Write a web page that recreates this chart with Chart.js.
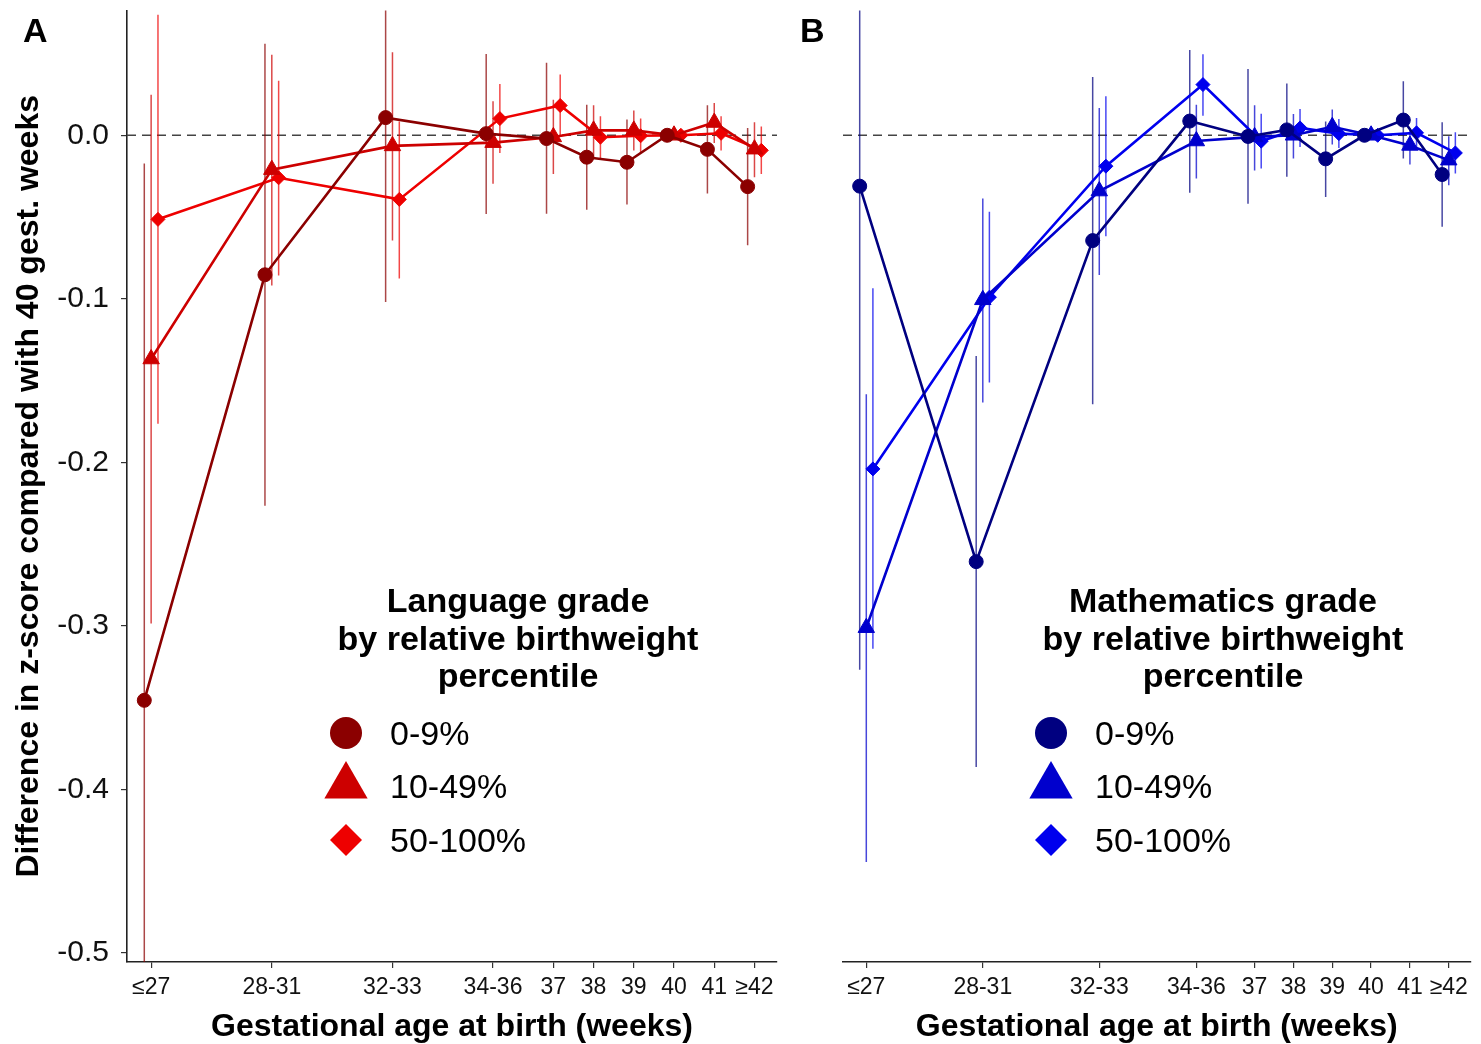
<!DOCTYPE html>
<html>
<head>
<meta charset="utf-8">
<script src="https://cdn.jsdelivr.net/npm/chart.js@4"></script>
<style>
  html, body { margin: 0; padding: 0; background: #fff; }
  #wrap { position: relative; width: 1481px; height: 1044px; }
  #chartA { position: absolute; left: 0; top: 0; }
  #chartB { position: absolute; left: 790px; top: 0; }
</style>
</head>
<body>
<div id="wrap">
  <canvas id="chartA" width="790" height="1044"></canvas>
  <canvas id="chartB" width="691" height="1044"></canvas>
</div>
<script>
// categories on the x axis and where they sit (weeks)
const categories = ['≤27', '28-31', '32-33', '34-36', '37', '38', '39', '40', '41', '≥42'];
const catWeeks = [27, 30, 33, 35.5, 37, 38, 39, 40, 41, 42];
const groups = ['0-9%', '10-49%', '50-100%'];
const dodge = [-0.17, 0, 0.17];
const yTicks = [0, -0.1, -0.2, -0.3, -0.4, -0.5];

// A: language grade
const langLow = [-0.3455, -0.0853, 0.0108, 0.001, -0.002, -0.0134, -0.0165, 0, -0.0086, -0.0314];
const langLowLo = [-0.674, -0.2265, -0.102, -0.0482, -0.048, -0.0456, -0.0423, null, -0.0356, -0.0673];
const langLowHi = [-0.0173, 0.056, 0.1236, 0.0497, 0.0444, 0.0187, 0.0096, null, 0.0183, 0.0045];

const langMid = [-0.1368, -0.021, -0.0065, -0.0045, -0.001, 0.003, 0.003, 0, 0.0078, -0.0085];
const langMidLo = [-0.2985, -0.0918, -0.0643, -0.0297, -0.0236, -0.0134, -0.0093, null, -0.0047, -0.0256];
const langMidHi = [0.0248, 0.0493, 0.0507, 0.0208, 0.0218, 0.0183, 0.0151, null, 0.0197, 0.0079];

const langHigh = [-0.0514, -0.026, -0.0392, 0.0102, 0.0182, -0.0012, -0.0003, 0, 0.0012, -0.0092];
const langHighLo = [-0.1764, -0.0857, -0.0875, -0.0108, -0.0006, -0.0139, -0.0108, null, -0.0093, -0.0236];
const langHighHi = [0.0737, 0.0334, 0.0085, 0.0313, 0.0371, 0.0116, 0.0102, null, 0.0116, 0.0053];

// B: mathematics grade
const mathLow = [-0.0311, -0.2607, -0.0644, 0.0087, -0.0007, 0.0033, -0.0144, 0, 0.0093, -0.024];
const mathLowLo = [-0.3268, -0.3863, -0.1644, -0.0352, -0.0419, -0.0254, -0.0377, null, -0.0142, -0.056];
const mathLowHi = [0.2646, -0.1349, 0.0356, 0.0521, 0.0405, 0.0316, 0.0085, null, 0.033, 0.0079];

const mathMid = [-0.3011, -0.1006, -0.0341, -0.0035, -0.001, 0.0, 0.0052, 0, -0.0062, -0.0152];
const mathMidLo = [-0.4444, -0.1634, -0.0855, -0.0264, -0.0216, -0.0142, -0.0057, null, -0.0179, -0.0305];
const mathMidHi = [-0.1583, -0.0386, 0.0167, 0.0187, 0.0183, 0.013, 0.0157, null, 0.0045, -0.0006];

const mathHigh = [-0.204, -0.099, -0.0189, 0.031, -0.0036, 0.0045, 0.001, 0, 0.0015, -0.0108];
const mathHighLo = [-0.314, -0.1512, -0.0617, 0.012, -0.0203, -0.0071, -0.0078, null, -0.0073, -0.0234];
const mathHighHi = [-0.0936, -0.0468, 0.0238, 0.0496, 0.0132, 0.0161, 0.01, null, 0.0106, 0.0018];

const FONT = "'Liberation Sans', Arial, sans-serif";
Chart.defaults.font.family = FONT;
Chart.defaults.color = '#111';

const pointStyles = ['circle', 'triangle', 'rectRot'];
const pointRadii = [7, 9.5, 7];

function withAlpha(hex, a) {
  const n = parseInt(hex.slice(1), 16);
  return 'rgba(' + (n >> 16) + ',' + ((n >> 8) & 255) + ',' + (n & 255) + ',' + a + ')';
}

function drawMarker(ctx, style, x, y, r, color) {
  ctx.fillStyle = color;
  ctx.beginPath();
  if (style === 'circle') {
    ctx.arc(x, y, r, 0, Math.PI * 2);
  } else if (style === 'triangle') {
    ctx.moveTo(x, y - r);
    ctx.lineTo(x + r * Math.sin(Math.PI / 3), y + r / 2);
    ctx.lineTo(x - r * Math.sin(Math.PI / 3), y + r / 2);
    ctx.closePath();
  } else {
    ctx.moveTo(x, y - r);
    ctx.lineTo(x + r, y);
    ctx.lineTo(x, y + r);
    ctx.lineTo(x - r, y);
    ctx.closePath();
  }
  ctx.fill();
}

const panelDecor = {
  id: 'panelDecor',
  beforeDatasetsDraw(chart) {
    const { ctx, chartArea: a, scales: { x, y } } = chart;
    ctx.save();
    ctx.beginPath();
    ctx.rect(a.left, a.top, a.right - a.left, a.bottom - a.top);
    ctx.clip();
    // reference line at 0
    const y0 = y.getPixelForValue(0);
    ctx.setLineDash([9, 6]);
    ctx.strokeStyle = '#444';
    ctx.lineWidth = 1.5;
    ctx.beginPath();
    ctx.moveTo(a.left, y0);
    ctx.lineTo(a.right, y0);
    ctx.stroke();
    ctx.setLineDash([]);
    // confidence intervals
    chart.data.datasets.forEach(ds => {
      ctx.strokeStyle = withAlpha(ds.borderColor, 0.72);
      ctx.lineWidth = 1.5;
      ds.data.forEach((p, i) => {
        if (ds.lo[i] == null) return;
        const px = x.getPixelForValue(p.x);
        ctx.beginPath();
        ctx.moveTo(px, y.getPixelForValue(ds.hi[i]));
        ctx.lineTo(px, y.getPixelForValue(ds.lo[i]));
        ctx.stroke();
      });
    });
    ctx.restore();
  },
  afterDraw(chart, args, o) {
    const ctx = chart.ctx;
    ctx.save();
    ctx.fillStyle = '#000';
    ctx.font = 'bold 34px ' + FONT;
    ctx.textAlign = 'left';
    ctx.textBaseline = 'alphabetic';
    ctx.fillText(o.letter, o.letterX, 42);
    // legend
    ctx.textAlign = 'center';
    ctx.textBaseline = 'middle';
    o.title.forEach((t, i) => ctx.fillText(t, o.titleX, 603 + i * 37.5));
    const itemY = [733, 786, 840];
    const legendR = [16, 25, 16];
    groups.forEach((g, i) => {
      drawMarker(ctx, pointStyles[i], o.markerX, itemY[i], legendR[i], o.colors[i]);
      ctx.fillStyle = '#000';
      ctx.font = '34px ' + FONT;
      ctx.textAlign = 'left';
      ctx.fillText(g, o.labelX, itemY[i] + 3);
    });
    ctx.restore();
  }
};

function makePanel(id, cfg) {
  const datasets = cfg.series.map((s, k) => ({
    label: groups[k],
    data: catWeeks.map((w, i) => ({ x: w + dodge[k], y: s.est[i] })),
    lo: s.lo,
    hi: s.hi,
    showLine: true,
    borderColor: cfg.colors[k],
    backgroundColor: cfg.colors[k],
    borderWidth: 2.6,
    pointStyle: pointStyles[k],
    pointRadius: pointRadii[k],
    pointHoverRadius: pointRadii[k],
    pointBorderWidth: 1,
    tension: 0
  }));

  const axisGrid = { display: true, drawOnChartArea: false, drawTicks: true, tickLength: 6, color: '#333', lineWidth: 1.2 };
  const axisBorder = { display: true, color: '#222', width: 1.6 };

  new Chart(document.getElementById(id), {
    type: 'scatter',
    data: { datasets },
    options: {
      responsive: false,
      animation: false,
      layout: { padding: cfg.padding },
      plugins: {
        legend: { display: false },
        tooltip: { enabled: false },
        panelDecor: cfg.decor
      },
      scales: {
        x: {
          type: 'linear',
          min: 26.4,
          max: 42.56,
          afterBuildTicks: s => { s.ticks = catWeeks.map(v => ({ value: v })); },
          afterFit: s => { s.height = 82; s.paddingLeft = 0; s.paddingRight = 0; },
          ticks: {
            callback: (v, i) => categories[i],
            autoSkip: false,
            maxRotation: 0,
            font: { size: 23 },
            padding: 6,
            color: '#111'
          },
          grid: axisGrid,
          border: axisBorder,
          title: {
            display: true,
            text: 'Gestational age at birth (weeks)',
            color: '#000',
            font: { size: 32, weight: 'bold', lineHeight: 1 },
            padding: { top: 0, bottom: 1 }
          }
        },
        y: {
          display: cfg.showY,
          min: -0.5055,
          max: 0.0763,
          afterBuildTicks: s => { s.ticks = yTicks.map(v => ({ value: v })); },
          afterFit: s => {
            s.width = cfg.showY ? 127 : 0;
            s.paddingTop = 0;
            s.paddingBottom = 0;
          },
          ticks: {
            callback: v => Number(v).toFixed(1),
            font: { size: 30 },
            padding: 12,
            color: '#111'
          },
          grid: axisGrid,
          border: axisBorder,
          title: {
            display: true,
            text: 'Difference in z-score compared with 40 gest. weeks',
            color: '#000',
            font: { size: 32, weight: 'bold', lineHeight: 1 },
            padding: { top: 13, bottom: 0 }
          }
        }
      }
    },
    plugins: [panelDecor]
  });
}

makePanel('chartA', {
  colors: ['#8B0000', '#CD0000', '#EE0000'],
  series: [
    { est: langLow, lo: langLowLo, hi: langLowHi },
    { est: langMid, lo: langMidLo, hi: langMidHi },
    { est: langHigh, lo: langHighLo, hi: langHighHi }
  ],
  showY: true,
  padding: { left: 0, top: 9, right: 13, bottom: 0 },
  decor: {
    letter: 'A', letterX: 23,
    title: ['Language grade', 'by relative birthweight', 'percentile'],
    titleX: 518, markerX: 346, labelX: 390,
    colors: ['#8B0000', '#CD0000', '#EE0000']
  }
});

makePanel('chartB', {
  colors: ['#000080', '#0000CD', '#0000EE'],
  series: [
    { est: mathLow, lo: mathLowLo, hi: mathLowHi },
    { est: mathMid, lo: mathMidLo, hi: mathMidHi },
    { est: mathHigh, lo: mathHighLo, hi: mathHighHi }
  ],
  showY: false,
  padding: { left: 53, top: 9, right: 6, bottom: 0 },
  decor: {
    letter: 'B', letterX: 10,
    title: ['Mathematics grade', 'by relative birthweight', 'percentile'],
    titleX: 433, markerX: 261, labelX: 305,
    colors: ['#000080', '#0000CD', '#0000EE']
  }
});
</script>
</body>
</html>
